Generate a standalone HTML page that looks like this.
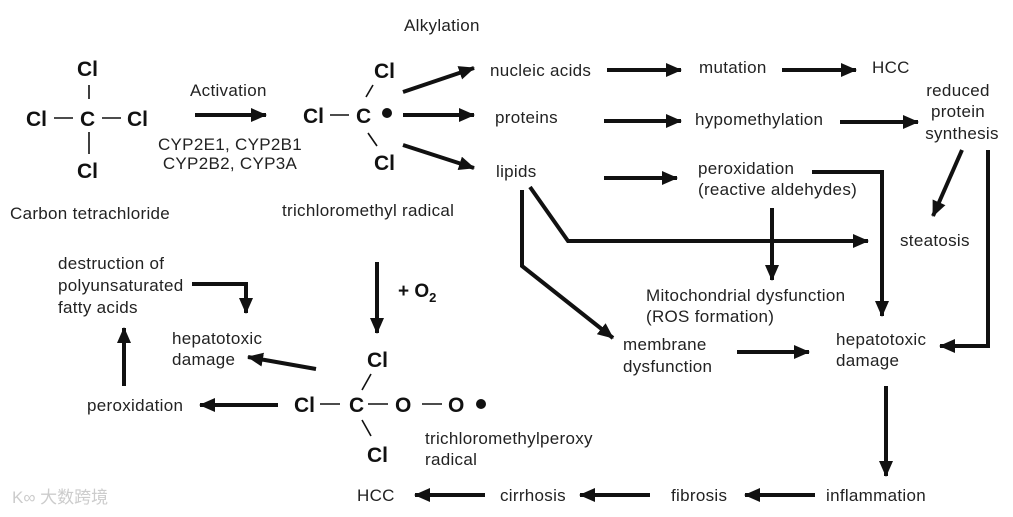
<!DOCTYPE html>
<html><head><meta charset="utf-8"><style>
html,body{margin:0;padding:0;background:#fff;}
svg{display:block;}
text{font-family:"Liberation Sans",Arial,sans-serif;font-size:17px;letter-spacing:0.3px;fill:#222;}
.b{font-weight:bold;font-size:21px;letter-spacing:0;fill:#111;}
line,polyline,path{stroke:#111;fill:none;}
.a{stroke-width:4;}
.t{stroke-width:1.6;}
</style></head><body>
<svg width="1013" height="517" viewBox="0 0 1013 517" xmlns="http://www.w3.org/2000/svg">
<defs>
<marker id="m" markerUnits="userSpaceOnUse" markerWidth="16" markerHeight="14" refX="15" refY="7" orient="auto">
<path d="M0,0 L16,7 L0,14 z" style="fill:#111;stroke:none"/>
</marker>
</defs>
<!-- CCl4 -->
<text class="b" x="77" y="76">Cl</text>
<line class="t" x1="89" y1="85" x2="89" y2="99"/>
<text class="b" x="26" y="126">Cl</text>
<line class="t" x1="54" y1="118" x2="73" y2="118"/>
<text class="b" x="80" y="126">C</text>
<line class="t" x1="102" y1="118" x2="121" y2="118"/>
<text class="b" x="127" y="126">Cl</text>
<line class="t" x1="89" y1="132" x2="89" y2="154"/>
<text class="b" x="77" y="178">Cl</text>
<text x="10" y="219">Carbon tetrachloride</text>
<text x="190" y="96">Activation</text>
<line class="a" x1="195" y1="115" x2="266" y2="115" marker-end="url(#m)"/>
<text x="230" y="150" text-anchor="middle">CYP2E1, CYP2B1</text>
<text x="230" y="169" text-anchor="middle">CYP2B2, CYP3A</text>
<!-- radical -->
<text class="b" x="374" y="78">Cl</text>
<line class="t" x1="373" y1="85" x2="366" y2="97"/>
<text class="b" x="303" y="123">Cl</text>
<line class="t" x1="330" y1="115" x2="349" y2="115"/>
<text class="b" x="356" y="123">C</text>
<circle cx="387" cy="113" r="5" fill="#111"/>
<line class="t" x1="368" y1="133" x2="377" y2="146"/>
<text class="b" x="374" y="170">Cl</text>
<text x="282" y="216">trichloromethyl radical</text>
<text x="404" y="31">Alkylation</text>
<line class="a" x1="403" y1="92" x2="474" y2="68" marker-end="url(#m)"/>
<line class="a" x1="403" y1="115" x2="474" y2="115" marker-end="url(#m)"/>
<line class="a" x1="403" y1="145" x2="474" y2="168" marker-end="url(#m)"/>
<text x="490" y="76">nucleic acids</text>
<text x="495" y="123">proteins</text>
<text x="496" y="177">lipids</text>
<line class="a" x1="607" y1="70" x2="681" y2="70" marker-end="url(#m)"/>
<text x="699" y="73">mutation</text>
<line class="a" x1="782" y1="70" x2="856" y2="70" marker-end="url(#m)"/>
<text x="872" y="73">HCC</text>
<line class="a" x1="604" y1="121" x2="681" y2="121" marker-end="url(#m)"/>
<text x="695" y="125">hypomethylation</text>
<line class="a" x1="840" y1="122" x2="918" y2="122" marker-end="url(#m)"/>
<text x="958" y="96" text-anchor="middle">reduced</text>
<text x="958" y="117" text-anchor="middle">protein</text>
<text x="962" y="139" text-anchor="middle">synthesis</text>
<line class="a" x1="604" y1="178" x2="677" y2="178" marker-end="url(#m)"/>
<text x="698" y="174">peroxidation</text>
<text x="698" y="195">(reactive aldehydes)</text>
<polyline class="a" points="812,172 882,172 882,316" marker-end="url(#m)"/>
<line class="a" x1="772" y1="208" x2="772" y2="280" marker-end="url(#m)"/>
<polyline class="a" points="522,190 522,266 613,338" marker-end="url(#m)"/>
<polyline class="a" points="530,187 568,241 868,241" marker-end="url(#m)"/>
<text x="900" y="246">steatosis</text>
<line class="a" x1="962" y1="150" x2="933" y2="216" marker-end="url(#m)"/>
<polyline class="a" points="988,150 988,346 940,346" marker-end="url(#m)"/>
<text x="646" y="301">Mitochondrial dysfunction</text>
<text x="646" y="322">(ROS formation)</text>
<text x="623" y="350">membrane</text>
<text x="623" y="372">dysfunction</text>
<line class="a" x1="737" y1="352" x2="809" y2="352" marker-end="url(#m)"/>
<text x="836" y="345">hepatotoxic</text>
<text x="836" y="366">damage</text>
<line class="a" x1="886" y1="386" x2="886" y2="476" marker-end="url(#m)"/>
<text x="826" y="501">inflammation</text>
<line class="a" x1="815" y1="495" x2="745" y2="495" marker-end="url(#m)"/>
<text x="671" y="501">fibrosis</text>
<line class="a" x1="650" y1="495" x2="580" y2="495" marker-end="url(#m)"/>
<text x="500" y="501">cirrhosis</text>
<line class="a" x1="485" y1="495" x2="415" y2="495" marker-end="url(#m)"/>
<text x="357" y="501">HCC</text>
<!-- O2 -->
<line class="a" x1="377" y1="262" x2="377" y2="333" marker-end="url(#m)"/>
<text x="398" y="297" style="font-weight:bold;font-size:19px;letter-spacing:0;fill:#111">+ O<tspan dy="5" style="font-size:13px">2</tspan></text>
<!-- peroxy -->
<text class="b" x="367" y="367">Cl</text>
<line class="t" x1="371" y1="374" x2="362" y2="390"/>
<text class="b" x="294" y="412">Cl</text>
<line class="t" x1="320" y1="404" x2="340" y2="404"/>
<text class="b" x="349" y="412">C</text>
<line class="t" x1="368" y1="404" x2="388" y2="404"/>
<text class="b" x="395" y="412">O</text>
<line class="t" x1="422" y1="404" x2="442" y2="404"/>
<text class="b" x="448" y="412">O</text>
<circle cx="481" cy="404" r="5" fill="#111"/>
<line class="t" x1="362" y1="420" x2="371" y2="436"/>
<text class="b" x="367" y="462">Cl</text>
<text x="425" y="444">trichloromethylperoxy</text>
<text x="425" y="465">radical</text>
<line class="a" x1="316" y1="369" x2="248" y2="357" marker-end="url(#m)"/>
<line class="a" x1="278" y1="405" x2="200" y2="405" marker-end="url(#m)"/>
<text x="87" y="411">peroxidation</text>
<line class="a" x1="124" y1="386" x2="124" y2="328" marker-end="url(#m)"/>
<text x="58" y="269">destruction of</text>
<text x="58" y="291">polyunsaturated</text>
<text x="58" y="313">fatty acids</text>
<polyline class="a" points="192,284 246,284 246,313" marker-end="url(#m)"/>
<text x="172" y="344">hepatotoxic</text>
<text x="172" y="365">damage</text>
<text x="12" y="503" style="fill:#ccc;font-size:17px;letter-spacing:0;font-family:'Liberation Sans','Noto Sans CJK SC',sans-serif">K∞ 大数跨境</text>
</svg>
</body></html>
